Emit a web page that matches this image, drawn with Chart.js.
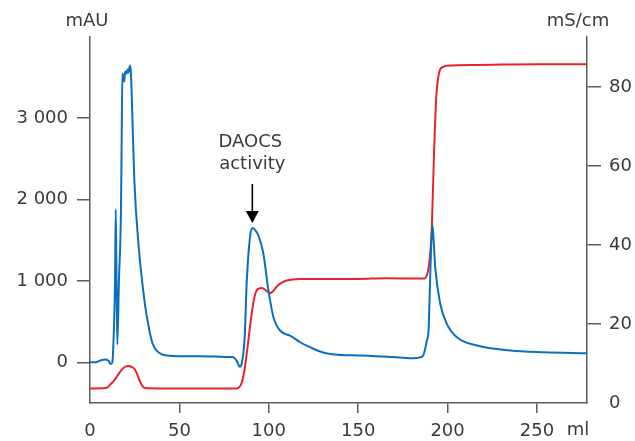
<!DOCTYPE html>
<html>
<head>
<meta charset="utf-8">
<script src="https://cdn.jsdelivr.net/npm/chart.js@4.4.0/dist/chart.umd.min.js"></script>
<style>
  html, body { margin: 0; padding: 0; background: #fff; }
</style>
</head>
<body>
<canvas id="chart" width="635" height="441"></canvas>
<script>
// Elution volume (ml) and UV absorbance (mAU)
const uvMl = [
  0, 3, 5.6, 8.4, 10.3, 11.6, 12.5, 13, 14, 14.4, 14.9, 15.3, 16.2, 17.3, 17.7,
  18.1, 18.7, 19.2, 19.6, 20.5, 20.9, 21.4, 22.4, 22.9, 23.7, 24.8, 27.3, 30.5,
  31.5, 33.6, 35, 37.3, 40, 43, 50, 61.6, 70, 78, 80.2, 82, 83.8, 85, 86.5, 87.7,
  89.5, 90.8, 92.5, 94.2, 97, 99.8, 102.6, 104.5, 106.3, 109, 111.9, 117.5, 123.1,
  128.7, 134.3, 153, 171.6, 181, 184.5, 186.5, 188.4, 189.4, 189.7, 190.5, 191.5,
  192.2, 193.1, 195.9, 199.6, 205.2, 216.4, 235, 253.7, 278
];
const uvMau = [
  0, 0, 20, 35, 20, -20, 0, 185, 1005, 1875, 900, 218, 1005, 1830, 2700,
  3547, 3500, 3444, 3567, 3547, 3596, 3555, 3645, 3547, 3013, 2235, 1400, 750,
  600, 350, 230, 144, 100, 82, 75, 75, 70, 65, 62, 20, -55, 0, 300, 1000,
  1538, 1650, 1620, 1558, 1333, 882, 553, 450, 390, 350, 328, 246, 185,
  132, 103, 82, 62, 50, 60, 90, 267, 400, 600, 1200, 1690,
  1500, 1168, 718, 472, 307, 205, 144, 123, 111
];

// Elution volume (ml) and conductivity (mS/cm)
const condMl = [
  0, 9, 11.2, 14, 16.8, 19, 21.4, 23.5, 25.2, 26.8, 28, 29.5, 30.8, 40, 82.1,
  83.5, 84.9, 86.3, 87.7, 89, 90.5, 91.8, 92.9, 94.5, 96.1, 98.5, 100.3, 102.4,
  104.5, 107, 110, 117.5, 150, 165, 187, 188.4, 189.4, 190.5, 191.2, 192.5,
  193.3, 194, 195, 195.9, 197.5, 199.6, 216.4, 250, 278
];
const condMs = [
  3.7, 3.8, 4.6, 6, 7.9, 9.0, 9.4, 9.1, 8.4, 6.8, 5.4, 4.2, 3.8, 3.7, 3.7,
  4.0, 5.2, 8, 12.6, 17.5, 22.8, 26.5, 28.2, 29.0, 29.1, 28.5, 27.8, 28.3,
  29.5, 30.4, 31, 31.4, 31.4, 31.6, 31.5, 32.3, 34.2, 39, 44.7, 64.2,
  74, 79.4, 83, 84.5, 85.1, 85.4, 85.6, 85.8, 85.8
];

const mlTicks = [0, 50, 100, 150, 200, 250];
const mauTicks = [0, 1000, 2000, 3000];
const msTicks = [0, 20, 40, 60, 80];

const BLUE = '#0b6fc0';
const RED = '#e8232c';
const AXIS = '#5c5c5c';
const TEXT = '#3a3a3a';
const FONT_FAMILY = '"DejaVu Sans", sans-serif';
const FONT_SIZE = 18;

// "3000" -> "3 000"
function spaced(v) {
  return String(v).replace(/\B(?=(\d{3})+(?!\d))/g, ' ');
}

function fixedTicks(values) {
  return scale => { scale.ticks = values.map(v => ({ value: v })); };
}

// hide the tick mark at 0 so it doesn't stick out past the frame corner
function tickColor(ctx) {
  return ctx.tick && ctx.tick.value === 0 ? 'rgba(0,0,0,0)' : AXIS;
}

// axis units and the activity marker
const overlay = {
  id: 'overlay',
  afterDraw(chart) {
    const { ctx, scales } = chart;
    ctx.save();
    ctx.fillStyle = TEXT;
    ctx.font = `${FONT_SIZE}px ${FONT_FAMILY}`;
    ctx.textAlign = 'center';
    ctx.textBaseline = 'middle';
    ctx.fillText('mAU', 87, 21);
    ctx.fillText('mS/cm', 578, 21);
    ctx.fillText('ml', 578, 430);

    // peak of the UV trace between 85 and 100 ml
    let peakIdx = 0;
    uvMl.forEach((v, i) => {
      if (v > 85 && v < 100 && uvMau[i] > uvMau[peakIdx]) peakIdx = i;
    });
    const px = scales.x.getPixelForValue(uvMl[peakIdx]);
    const tip = scales.yLeft.getPixelForValue(uvMau[peakIdx]) - 5;

    ctx.fillText('DAOCS', px - 2, 142);
    ctx.fillText('activity', px, 164);

    ctx.strokeStyle = '#000';
    ctx.fillStyle = '#000';
    ctx.lineWidth = 1.6;
    ctx.beginPath();
    ctx.moveTo(px, 184);
    ctx.lineTo(px, tip - 8);
    ctx.stroke();
    ctx.beginPath();
    ctx.moveTo(px - 6.5, tip - 12);
    ctx.lineTo(px + 6.5, tip - 12);
    ctx.lineTo(px, tip);
    ctx.closePath();
    ctx.fill();
    ctx.restore();
  }
};

const tickFont = { family: FONT_FAMILY, size: FONT_SIZE };

new Chart(document.getElementById('chart'), {
  type: 'line',
  data: {
    datasets: [
      {
        label: 'UV 280 nm',
        data: uvMl.map((x, i) => ({ x, y: uvMau[i] })),
        yAxisID: 'yLeft',
        borderColor: BLUE,
        borderWidth: 2,
        pointRadius: 0,
        cubicInterpolationMode: 'monotone'
      },
      {
        label: 'Conductivity',
        data: condMl.map((x, i) => ({ x, y: condMs[i] })),
        yAxisID: 'yRight',
        borderColor: RED,
        borderWidth: 2,
        pointRadius: 0,
        cubicInterpolationMode: 'monotone'
      }
    ]
  },
  options: {
    responsive: false,
    animation: false,
    layout: { padding: { top: 36.5, left: 0, right: 0, bottom: 0 } },
    plugins: {
      legend: { display: false },
      tooltip: { enabled: false }
    },
    scales: {
      x: {
        type: 'linear',
        min: 0,
        max: 278,
        afterBuildTicks: fixedTicks(mlTicks),
        afterFit: s => { s.height = 38; },
        ticks: { color: TEXT, font: tickFont, padding: 8, maxRotation: 0, autoSkip: false },
        grid: { drawOnChartArea: false, drawTicks: true, tickLength: 10, color: tickColor, lineWidth: 1.5 },
        border: { display: true, color: AXIS, width: 1.5 }
      },
      yLeft: {
        type: 'linear',
        position: 'left',
        min: -500,
        max: 4000,
        afterBuildTicks: fixedTicks(mauTicks),
        afterFit: s => { s.width = 90; },
        ticks: { color: TEXT, font: tickFont, padding: 9, callback: v => spaced(v) },
        grid: { drawOnChartArea: false, drawTicks: true, tickLength: 13, color: AXIS, lineWidth: 1.5 },
        border: { display: true, color: AXIS, width: 1.5 }
      },
      yRight: {
        type: 'linear',
        position: 'right',
        min: 0,
        max: 92.8,
        afterBuildTicks: fixedTicks(msTicks),
        afterFit: s => { s.width = 48; },
        ticks: { color: TEXT, font: tickFont, padding: 8 },
        grid: { drawOnChartArea: false, drawTicks: true, tickLength: 14, color: tickColor, lineWidth: 1.5 },
        border: { display: true, color: AXIS, width: 1.5 }
      }
    }
  },
  plugins: [overlay]
});
</script>
</body>
</html>
